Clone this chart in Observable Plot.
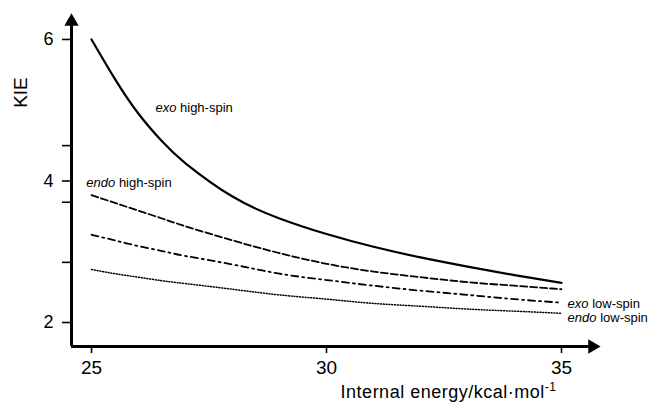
<!DOCTYPE html>
<html>
<head>
<meta charset="utf-8">
<script src="https://cdn.jsdelivr.net/npm/d3@7"></script>
<script src="https://cdn.jsdelivr.net/npm/@observablehq/plot@0.6"></script>
<style>
  html, body { margin: 0; padding: 0; background: #fff; }
  #chart svg { display: block; }
</style>
</head>
<body>
<div id="chart"></div>
<script>
// ---- data ----
const energy   = [25, 25.5, 26, 26.5, 27, 28, 29, 30, 31, 32, 33, 34, 35];
const exoHigh  = [6.00, 5.44, 4.95, 4.56, 4.25, 3.78, 3.47, 3.25, 3.07, 2.92, 2.79, 2.67, 2.56];
const endoHigh = [3.80, 3.69, 3.58, 3.47, 3.36, 3.16, 2.98, 2.83, 2.72, 2.64, 2.57, 2.52, 2.47];
const exoLow   = [3.24, 3.16, 3.08, 3.01, 2.94, 2.82, 2.69, 2.60, 2.52, 2.45, 2.39, 2.33, 2.28];
const endoLow  = [2.75, 2.69, 2.64, 2.59, 2.55, 2.47, 2.39, 2.33, 2.27, 2.23, 2.19, 2.16, 2.13];

const seriesNames = ["exo high-spin", "endo high-spin", "exo low-spin", "endo low-spin"];
const seriesValues = [exoHigh, endoHigh, exoLow, endoLow];

const xTicks = [25, 30, 35];
const yTicks = [6, 4.5, 4, 3.7, 2.85, 2];
const yTickLabels = [6, 4, 2];

// label anchors (data coordinates)
const labelX = [26.36, 24.89, 35.13, 35.13];
const labelY = [5.04, 3.97, 2.27, 2.07];

const xLabel = "Internal energy/kcal·mol";
const xLabelSup = "-1";
const yLabel = "KIE";

// ---- build table ----
const rows = [];
seriesNames.forEach((name, s) => {
  energy.forEach((e, i) => rows.push({series: name, energy: e, kie: seriesValues[s][i]}));
});
const labels = seriesNames.map((name, i) => {
  const sp = name.indexOf(" ");
  return {it: name.slice(0, sp), rest: name.slice(sp), x: labelX[i], y: labelY[i]};
});

const styles = {
  "exo high-spin":  {dash: null,        width: 2.2},
  "endo high-spin": {dash: "7,3",       width: 1.8},
  "exo low-spin":   {dash: "7,4,2,4",   width: 1.8},
  "endo low-spin":  {dash: "1,1.8",     width: 1.5}
};

const font = "'Liberation Sans', Arial, Helvetica, sans-serif";
const xDom = [24.574, 35.83];
const yDom = [1.661, 6.367];

const lineMarks = seriesNames.map(name =>
  Plot.line(rows.filter(d => d.series === name), {
    x: "energy", y: "kie", curve: "natural",
    stroke: "#000", strokeWidth: styles[name].width,
    strokeDasharray: styles[name].dash
  })
);

const chart = Plot.plot({
  width: 650,
  height: 403,
  marginLeft: 71,
  marginRight: 50,
  marginTop: 13,
  marginBottom: 57,
  style: {fontFamily: font, background: "#fff", color: "#000", overflow: "visible"},
  x: {domain: xDom},
  y: {domain: yDom},
  marks: [
    // tick marks
    Plot.axisY({ticks: yTicks, tickSize: 9, strokeWidth: 1.6, tickFormat: () => "", label: null}),
    Plot.axisX({ticks: xTicks, tickSize: 7, strokeWidth: 1.6, tickFormat: () => "", label: null}),
    // tick labels
    Plot.text(yTickLabels, {x: xDom[0], y: d => d, text: d => String(d), dx: -18, textAnchor: "end",
      lineAnchor: "middle", fontSize: 18, fill: "#000"}),
    Plot.text(xTicks, {x: d => d, y: yDom[0], text: d => String(d), dy: 21, textAnchor: "middle",
      lineAnchor: "middle", fontSize: 19, fill: "#000"}),
    // axis lines
    Plot.ruleX([xDom[0]], {y1: yDom[0], y2: 6.2, stroke: "#000", strokeWidth: 3}),
    Plot.ruleY([yDom[0]], {x1: xDom[0], x2: 35.6, stroke: "#000", strokeWidth: 3}),
    // arrow heads
    Plot.dot([{x: xDom[0], y: 6.253}], {x: "x", y: "y", symbol: "triangle", r: 5.3, fill: "#000", stroke: null}),
    Plot.dot([{x: 35.657, y: yDom[0]}], {x: "x", y: "y", symbol: "triangle", r: 5.3, fill: "#000", stroke: null, rotate: 90}),
    ...lineMarks,
    Plot.text(labels, {x: "x", y: "y", text: d => d.it + d.rest, textAnchor: "start",
      lineAnchor: "middle", fontSize: 13, fill: "#000", ariaDescription: "curve-labels"}),
    Plot.text([xLabel], {x: 30.30, y: 1.01, text: d => d, textAnchor: "start", lineAnchor: "middle",
      fontSize: 18, fill: "#000", ariaDescription: "x-label"}),
    Plot.text([yLabel], {x: 23.49, y: 5.25, text: d => d, rotate: -90, textAnchor: "middle",
      lineAnchor: "middle", fontSize: 19, fill: "#000"})
  ]
});

// italic first word of curve labels
d3.select(chart).selectAll('g[aria-description="curve-labels"] text').each(function(_, i) {
  const t = d3.select(this);
  t.text(null);
  t.append("tspan").attr("font-style", "italic").text(labels[i].it);
  t.append("tspan").text(labels[i].rest);
});
// superscript -1
d3.select(chart).selectAll('g[aria-description="x-label"] text').each(function() {
  const t = d3.select(this);
  t.style("letter-spacing", "0.5px");
  t.append("tspan").attr("font-size", 12).attr("dy", "-0.6em").text(xLabelSup);
});

document.getElementById("chart").appendChild(chart);
</script>
</body>
</html>
